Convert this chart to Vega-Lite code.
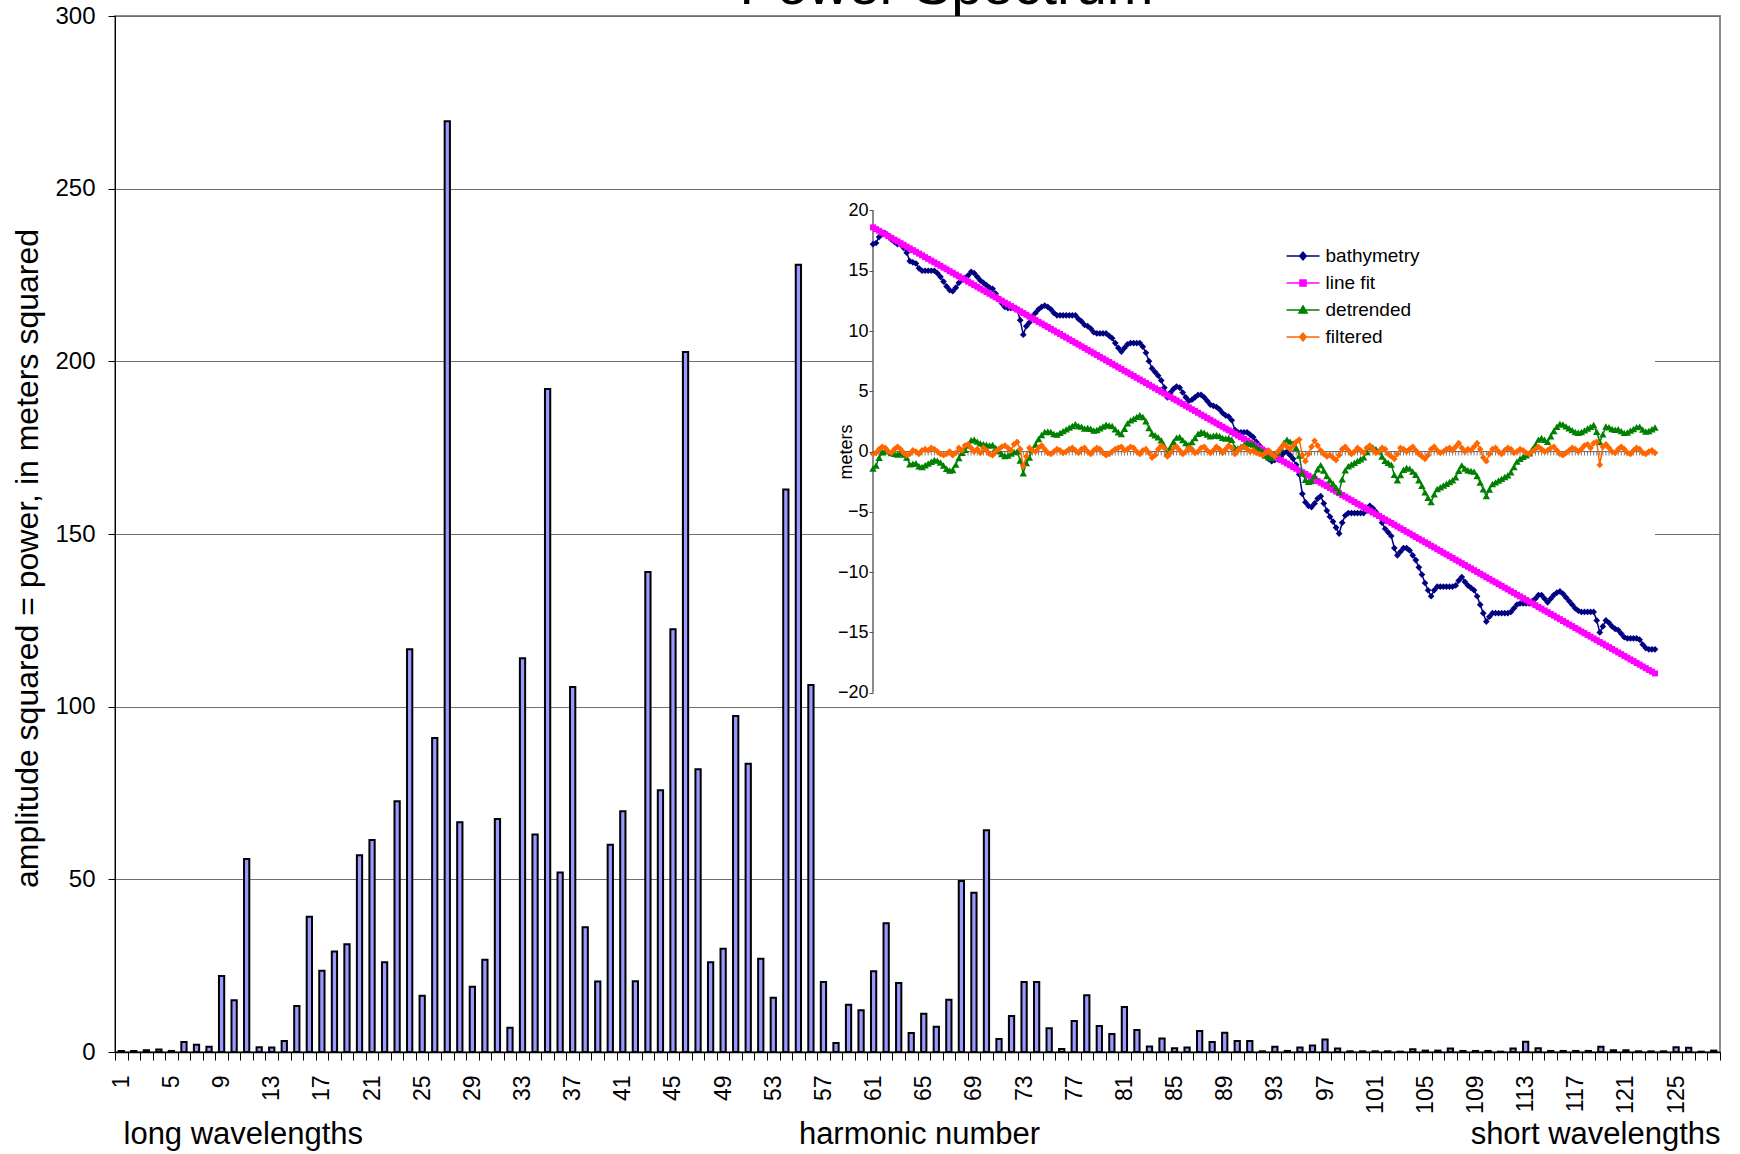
{
"$schema":"https://vega.github.io/schema/vega-lite/v6.json",
"autosize":{"type":"none"},
"width":1605,"height":1036,
"padding":{"left":115,"top":16,"right":20,"bottom":102},
"background":"white",
"config":{"font":"Liberation Sans","view":{"stroke":"#8c8c8c","strokeWidth":2}},
"datasets":{
"bars":[{"h":1,"p":0.3},{"h":2,"p":0.3},{"h":3,"p":0.5},{"h":4,"p":0.7},{"h":5,"p":0.3},{"h":6,"p":2.9},{"h":7,"p":2.1},{"h":8,"p":1.5},{"h":9,"p":22},{"h":10,"p":15},{"h":11,"p":55.9},{"h":12,"p":1.4},{"h":13,"p":1.3},{"h":14,"p":3.2},{"h":15,"p":13.3},{"h":16,"p":39.2},{"h":17,"p":23.5},{"h":18,"p":29.1},{"h":19,"p":31.2},{"h":20,"p":57},{"h":21,"p":61.4},{"h":22,"p":26},{"h":23,"p":72.6},{"h":24,"p":116.6},{"h":25,"p":16.3},{"h":26,"p":90.9},{"h":27,"p":269.5},{"h":28,"p":66.5},{"h":29,"p":18.9},{"h":30,"p":26.7},{"h":31,"p":67.5},{"h":32,"p":7},{"h":33,"p":114},{"h":34,"p":63},{"h":35,"p":192},{"h":36,"p":52},{"h":37,"p":105.7},{"h":38,"p":36.1},{"h":39,"p":20.4},{"h":40,"p":60},{"h":41,"p":69.7},{"h":42,"p":20.5},{"h":43,"p":139},{"h":44,"p":75.8},{"h":45,"p":122.4},{"h":46,"p":202.7},{"h":47,"p":81.9},{"h":48,"p":26},{"h":49,"p":29.9},{"h":50,"p":97.3},{"h":51,"p":83.5},{"h":52,"p":27},{"h":53,"p":15.7},{"h":54,"p":162.9},{"h":55,"p":228},{"h":56,"p":106.3},{"h":57,"p":20.3},{"h":58,"p":2.6},{"h":59,"p":13.7},{"h":60,"p":12.1},{"h":61,"p":23.4},{"h":62,"p":37.3},{"h":63,"p":20},{"h":64,"p":5.5},{"h":65,"p":11.1},{"h":66,"p":7.3},{"h":67,"p":15.1},{"h":68,"p":49.5},{"h":69,"p":46.1},{"h":70,"p":64.2},{"h":71,"p":3.8},{"h":72,"p":10.4},{"h":73,"p":20.3},{"h":74,"p":20.3},{"h":75,"p":6.9},{"h":76,"p":0.9},{"h":77,"p":9},{"h":78,"p":16.4},{"h":79,"p":7.5},{"h":80,"p":5.2},{"h":81,"p":13},{"h":82,"p":6.4},{"h":83,"p":1.6},{"h":84,"p":3.9},{"h":85,"p":1.1},{"h":86,"p":1.3},{"h":87,"p":6.1},{"h":88,"p":2.9},{"h":89,"p":5.6},{"h":90,"p":3.2},{"h":91,"p":3.2},{"h":92,"p":0.2},{"h":93,"p":1.5},{"h":94,"p":0.3},{"h":95,"p":1.3},{"h":96,"p":1.9},{"h":97,"p":3.6},{"h":98,"p":1},{"h":99,"p":0.2},{"h":100,"p":0.2},{"h":101,"p":0.2},{"h":102,"p":0.2},{"h":103,"p":0.1},{"h":104,"p":0.8},{"h":105,"p":0.4},{"h":106,"p":0.4},{"h":107,"p":1},{"h":108,"p":0.3},{"h":109,"p":0.3},{"h":110,"p":0.3},{"h":111,"p":0.1},{"h":112,"p":1},{"h":113,"p":3},{"h":114,"p":1.1},{"h":115,"p":0.3},{"h":116,"p":0.3},{"h":117,"p":0.3},{"h":118,"p":0.3},{"h":119,"p":1.5},{"h":120,"p":0.5},{"h":121,"p":0.5},{"h":122,"p":0.2},{"h":123,"p":0.2},{"h":124,"p":0.2},{"h":125,"p":1.4},{"h":126,"p":1.2},{"h":127,"p":0.1},{"h":128,"p":0.4}],
"inset":[
{"i":1,"b":17.2,"f":18.6,"d":-1.4,"o":-0.2},{"i":2,"b":17.3,"f":18.45,"d":-1.15,"o":-0.1},{"i":3,"b":17.8,"f":18.31,"d":-0.51,"o":0.2},{"i":4,"b":18.1,"f":18.16,"d":-0.06,"o":0.4},{"i":5,"b":18.1,"f":18.02,"d":0.08,"o":0.3},{"i":6,"b":17.9,"f":17.87,"d":0.03,"o":0},{"i":7,"b":17.6,"f":17.73,"d":-0.13,"o":-0.1},{"i":8,"b":17.4,"f":17.58,"d":-0.18,"o":0.2},{"i":9,"b":17.2,"f":17.44,"d":-0.24,"o":0.4},{"i":10,"b":17.2,"f":17.29,"d":-0.09,"o":0.2},
{"i":11,"b":16.9,"f":17.15,"d":-0.25,"o":-0.1},{"i":12,"b":16.5,"f":17,"d":-0.5,"o":-0.3},{"i":13,"b":15.8,"f":16.86,"d":-1.06,"o":-0.2},{"i":14,"b":15.7,"f":16.71,"d":-1.01,"o":0.1},{"i":15,"b":15.6,"f":16.57,"d":-0.97,"o":0},{"i":16,"b":15.2,"f":16.42,"d":-1.22,"o":-0.2},{"i":17,"b":15,"f":16.28,"d":-1.28,"o":0.1},{"i":18,"b":15,"f":16.13,"d":-1.13,"o":0.2},{"i":19,"b":15,"f":15.99,"d":-0.99,"o":0.1},{"i":20,"b":15,"f":15.84,"d":-0.84,"o":0.3},
{"i":21,"b":15,"f":15.7,"d":-0.7,"o":0.2},{"i":22,"b":14.8,"f":15.55,"d":-0.75,"o":0},{"i":23,"b":14.5,"f":15.41,"d":-0.91,"o":-0.2},{"i":24,"b":14.1,"f":15.26,"d":-1.16,"o":-0.3},{"i":25,"b":13.7,"f":15.12,"d":-1.42,"o":-0.2},{"i":26,"b":13.4,"f":14.97,"d":-1.57,"o":0},{"i":27,"b":13.3,"f":14.83,"d":-1.53,"o":-0.3},{"i":28,"b":13.6,"f":14.68,"d":-1.08,"o":-0.1},{"i":29,"b":14,"f":14.54,"d":-0.54,"o":0.3},{"i":30,"b":14.3,"f":14.39,"d":-0.09,"o":0.1},
{"i":31,"b":14.4,"f":14.25,"d":0.15,"o":0.5},{"i":32,"b":14.6,"f":14.1,"d":0.5,"o":0.6},{"i":33,"b":14.9,"f":13.96,"d":0.94,"o":0.3},{"i":34,"b":14.8,"f":13.81,"d":0.99,"o":0},{"i":35,"b":14.5,"f":13.67,"d":0.83,"o":0.2},{"i":36,"b":14.2,"f":13.52,"d":0.68,"o":-0.1},{"i":37,"b":14,"f":13.38,"d":0.62,"o":0.3},{"i":38,"b":13.8,"f":13.23,"d":0.57,"o":0.1},{"i":39,"b":13.6,"f":13.09,"d":0.51,"o":-0.2},{"i":40,"b":13.5,"f":12.94,"d":0.56,"o":-0.3},
{"i":41,"b":13.1,"f":12.8,"d":0.3,"o":0},{"i":42,"b":12.7,"f":12.65,"d":0.05,"o":0.2},{"i":43,"b":12.3,"f":12.51,"d":-0.21,"o":0.4},{"i":44,"b":12,"f":12.36,"d":-0.36,"o":0.5},{"i":45,"b":11.9,"f":12.22,"d":-0.32,"o":0.3},{"i":46,"b":11.9,"f":12.07,"d":-0.17,"o":0.1},{"i":47,"b":11.9,"f":11.93,"d":-0.03,"o":0.6},{"i":48,"b":11.8,"f":11.78,"d":0.02,"o":0.8},{"i":49,"b":10.9,"f":11.64,"d":-0.74,"o":0.2},{"i":50,"b":9.7,"f":11.49,"d":-1.79,"o":-1.2},
{"i":51,"b":10.4,"f":11.35,"d":-0.95,"o":-0.4},{"i":52,"b":10.7,"f":11.2,"d":-0.5,"o":0.3},{"i":53,"b":11.2,"f":11.06,"d":0.14,"o":0.1},{"i":54,"b":11.5,"f":10.91,"d":0.59,"o":0},{"i":55,"b":11.8,"f":10.76,"d":1.04,"o":0.3},{"i":56,"b":12,"f":10.62,"d":1.38,"o":0.5},{"i":57,"b":12.1,"f":10.47,"d":1.63,"o":0.2},{"i":58,"b":12,"f":10.33,"d":1.67,"o":-0.1},{"i":59,"b":11.8,"f":10.18,"d":1.62,"o":-0.2},{"i":60,"b":11.5,"f":10.04,"d":1.46,"o":0},
{"i":61,"b":11.3,"f":9.89,"d":1.41,"o":0.2},{"i":62,"b":11.3,"f":9.75,"d":1.55,"o":0.1},{"i":63,"b":11.3,"f":9.6,"d":1.7,"o":-0.1},{"i":64,"b":11.3,"f":9.46,"d":1.84,"o":0},{"i":65,"b":11.3,"f":9.31,"d":1.99,"o":0.2},{"i":66,"b":11.3,"f":9.17,"d":2.13,"o":0.3},{"i":67,"b":11.3,"f":9.02,"d":2.28,"o":0.1},{"i":68,"b":11,"f":8.88,"d":2.12,"o":-0.1},{"i":69,"b":10.8,"f":8.73,"d":2.07,"o":0.2},{"i":70,"b":10.5,"f":8.59,"d":1.91,"o":0.3},
{"i":71,"b":10.4,"f":8.44,"d":1.96,"o":0},{"i":72,"b":10.2,"f":8.3,"d":1.9,"o":-0.2},{"i":73,"b":9.9,"f":8.15,"d":1.75,"o":0.1},{"i":74,"b":9.8,"f":8.01,"d":1.79,"o":0.3},{"i":75,"b":9.8,"f":7.86,"d":1.94,"o":0.2},{"i":76,"b":9.8,"f":7.72,"d":2.08,"o":-0.1},{"i":77,"b":9.8,"f":7.57,"d":2.23,"o":-0.3},{"i":78,"b":9.6,"f":7.43,"d":2.17,"o":-0.2},{"i":79,"b":9.4,"f":7.28,"d":2.12,"o":0},{"i":80,"b":9,"f":7.14,"d":1.86,"o":0.2},
{"i":81,"b":8.6,"f":6.99,"d":1.61,"o":0.3},{"i":82,"b":8.3,"f":6.85,"d":1.45,"o":0.4},{"i":83,"b":8.6,"f":6.7,"d":1.9,"o":0.1},{"i":84,"b":8.9,"f":6.56,"d":2.34,"o":0.2},{"i":85,"b":9,"f":6.41,"d":2.59,"o":0.4},{"i":86,"b":9,"f":6.27,"d":2.73,"o":0.3},{"i":87,"b":9,"f":6.12,"d":2.88,"o":0},{"i":88,"b":9,"f":5.98,"d":3.02,"o":-0.2},{"i":89,"b":8.7,"f":5.83,"d":2.87,"o":0.1},{"i":90,"b":8.2,"f":5.69,"d":2.51,"o":0.2},
{"i":91,"b":7.5,"f":5.54,"d":1.96,"o":-0.1},{"i":92,"b":6.9,"f":5.4,"d":1.5,"o":-0.5},{"i":93,"b":6.6,"f":5.25,"d":1.35,"o":-0.3},{"i":94,"b":6.3,"f":5.11,"d":1.19,"o":0.2},{"i":95,"b":5.9,"f":4.96,"d":0.94,"o":0.5},{"i":96,"b":5.3,"f":4.82,"d":0.48,"o":0.3},{"i":97,"b":4.5,"f":4.67,"d":-0.17,"o":-0.4},{"i":98,"b":4.9,"f":4.53,"d":0.37,"o":-0.1},{"i":99,"b":5.2,"f":4.38,"d":0.82,"o":0.3},{"i":100,"b":5.4,"f":4.24,"d":1.16,"o":0.4},
{"i":101,"b":5.3,"f":4.09,"d":1.21,"o":0.1},{"i":102,"b":4.9,"f":3.95,"d":0.95,"o":-0.2},{"i":103,"b":4.5,"f":3.8,"d":0.7,"o":0},{"i":104,"b":4.2,"f":3.66,"d":0.54,"o":0.3},{"i":105,"b":4.3,"f":3.51,"d":0.79,"o":0.2},{"i":106,"b":4.5,"f":3.37,"d":1.13,"o":-0.1},{"i":107,"b":4.7,"f":3.22,"d":1.48,"o":0},{"i":108,"b":4.7,"f":3.07,"d":1.63,"o":0.3},{"i":109,"b":4.5,"f":2.93,"d":1.57,"o":0.4},{"i":110,"b":4.2,"f":2.78,"d":1.42,"o":0.1},
{"i":111,"b":3.9,"f":2.64,"d":1.26,"o":-0.1},{"i":112,"b":3.8,"f":2.49,"d":1.31,"o":0.1},{"i":113,"b":3.7,"f":2.35,"d":1.35,"o":0.4},{"i":114,"b":3.5,"f":2.2,"d":1.3,"o":0.2},{"i":115,"b":3.2,"f":2.06,"d":1.14,"o":-0.1},{"i":116,"b":3,"f":1.91,"d":1.09,"o":0.2},{"i":117,"b":2.9,"f":1.77,"d":1.13,"o":0.5},{"i":118,"b":2.6,"f":1.62,"d":0.98,"o":0.3},{"i":119,"b":1.8,"f":1.48,"d":0.32,"o":-0.2},{"i":120,"b":1.6,"f":1.33,"d":0.27,"o":0.1},
{"i":121,"b":1.6,"f":1.19,"d":0.41,"o":0.3},{"i":122,"b":1.6,"f":1.04,"d":0.56,"o":0.4},{"i":123,"b":1.6,"f":0.9,"d":0.7,"o":0.2},{"i":124,"b":1.4,"f":0.75,"d":0.65,"o":0},{"i":125,"b":1.2,"f":0.61,"d":0.59,"o":0.1},{"i":126,"b":0.8,"f":0.46,"d":0.34,"o":-0.1},{"i":127,"b":0.5,"f":0.32,"d":0.18,"o":-0.2},{"i":128,"b":0.2,"f":0.17,"d":0.03,"o":-0.3},{"i":129,"b":-0.3,"f":0.03,"d":-0.33,"o":-0.1},{"i":130,"b":-0.6,"f":-0.12,"d":-0.48,"o":0.1},
{"i":131,"b":-0.8,"f":-0.26,"d":-0.54,"o":-0.2},{"i":132,"b":-0.7,"f":-0.41,"d":-0.29,"o":-0.4},{"i":133,"b":-0.6,"f":-0.55,"d":-0.05,"o":0},{"i":134,"b":-0.4,"f":-0.7,"d":0.3,"o":0.3},{"i":135,"b":-0.1,"f":-0.84,"d":0.74,"o":0.6},{"i":136,"b":0,"f":-0.99,"d":0.99,"o":0.4},{"i":137,"b":-0.3,"f":-1.13,"d":0.83,"o":0.2},{"i":138,"b":-0.6,"f":-1.28,"d":0.68,"o":0.5},{"i":139,"b":-1.1,"f":-1.42,"d":0.32,"o":0.8},{"i":140,"b":-1.9,"f":-1.57,"d":-0.33,"o":1},
{"i":141,"b":-3.5,"f":-1.71,"d":-1.79,"o":-0.3},{"i":142,"b":-4.2,"f":-1.86,"d":-2.34,"o":-0.8},{"i":143,"b":-4.5,"f":-2,"d":-2.5,"o":-0.2},{"i":144,"b":-4.6,"f":-2.15,"d":-2.45,"o":0.4},{"i":145,"b":-4.3,"f":-2.29,"d":-2.01,"o":0.9},{"i":146,"b":-3.9,"f":-2.44,"d":-1.46,"o":0.5},{"i":147,"b":-3.7,"f":-2.58,"d":-1.12,"o":0.1},{"i":148,"b":-4.3,"f":-2.73,"d":-1.57,"o":-0.2},{"i":149,"b":-4.9,"f":-2.87,"d":-2.03,"o":-0.4},{"i":150,"b":-5.4,"f":-3.02,"d":-2.38,"o":-0.3},
{"i":151,"b":-5.8,"f":-3.16,"d":-2.64,"o":-0.5},{"i":152,"b":-6.3,"f":-3.31,"d":-2.99,"o":-0.7},{"i":153,"b":-6.8,"f":-3.45,"d":-3.35,"o":-0.3},{"i":154,"b":-5.9,"f":-3.6,"d":-2.3,"o":0.2},{"i":155,"b":-5.3,"f":-3.74,"d":-1.56,"o":0.4},{"i":156,"b":-5.1,"f":-3.89,"d":-1.21,"o":0.1},{"i":157,"b":-5.1,"f":-4.03,"d":-1.07,"o":-0.2},{"i":158,"b":-5.1,"f":-4.18,"d":-0.92,"o":0},{"i":159,"b":-5.1,"f":-4.33,"d":-0.77,"o":0.3},{"i":160,"b":-5.1,"f":-4.47,"d":-0.63,"o":0.1},
{"i":161,"b":-5.1,"f":-4.62,"d":-0.48,"o":-0.1},{"i":162,"b":-4.8,"f":-4.76,"d":-0.04,"o":0.3},{"i":163,"b":-4.5,"f":-4.91,"d":0.41,"o":0.5},{"i":164,"b":-4.7,"f":-5.05,"d":0.35,"o":0.2},{"i":165,"b":-5,"f":-5.2,"d":0.2,"o":-0.1},{"i":166,"b":-5.3,"f":-5.34,"d":0.04,"o":0},{"i":167,"b":-5.9,"f":-5.49,"d":-0.41,"o":0.3},{"i":168,"b":-6.4,"f":-5.63,"d":-0.77,"o":0.2},{"i":169,"b":-6.7,"f":-5.78,"d":-0.92,"o":-0.2},{"i":170,"b":-7,"f":-5.92,"d":-1.08,"o":-0.4},
{"i":171,"b":-8,"f":-6.07,"d":-1.93,"o":-0.6},{"i":172,"b":-8.6,"f":-6.21,"d":-2.39,"o":-0.2},{"i":173,"b":-8.3,"f":-6.36,"d":-1.94,"o":0.3},{"i":174,"b":-8,"f":-6.5,"d":-1.5,"o":0.2},{"i":175,"b":-8,"f":-6.65,"d":-1.35,"o":0},{"i":176,"b":-8.2,"f":-6.79,"d":-1.41,"o":0.2},{"i":177,"b":-8.6,"f":-6.94,"d":-1.66,"o":0.4},{"i":178,"b":-9,"f":-7.08,"d":-1.92,"o":0.1},{"i":179,"b":-9.6,"f":-7.23,"d":-2.37,"o":-0.2},{"i":180,"b":-10.2,"f":-7.37,"d":-2.83,"o":-0.4},
{"i":181,"b":-10.9,"f":-7.52,"d":-3.38,"o":-0.6},{"i":182,"b":-11.5,"f":-7.66,"d":-3.84,"o":-0.3},{"i":183,"b":-12,"f":-7.81,"d":-4.19,"o":0.2},{"i":184,"b":-11.5,"f":-7.95,"d":-3.55,"o":0.4},{"i":185,"b":-11.2,"f":-8.1,"d":-3.1,"o":0.1},{"i":186,"b":-11.2,"f":-8.24,"d":-2.96,"o":-0.1},{"i":187,"b":-11.2,"f":-8.39,"d":-2.81,"o":0},{"i":188,"b":-11.2,"f":-8.53,"d":-2.67,"o":0.2},{"i":189,"b":-11.2,"f":-8.68,"d":-2.52,"o":0.3},{"i":190,"b":-11.2,"f":-8.82,"d":-2.38,"o":0.1},
{"i":191,"b":-11.1,"f":-8.97,"d":-2.13,"o":0.4},{"i":192,"b":-10.7,"f":-9.11,"d":-1.59,"o":0.7},{"i":193,"b":-10.4,"f":-9.26,"d":-1.14,"o":0.3},{"i":194,"b":-10.8,"f":-9.4,"d":-1.4,"o":0},{"i":195,"b":-11.1,"f":-9.55,"d":-1.55,"o":0.2},{"i":196,"b":-11.3,"f":-9.69,"d":-1.61,"o":0.1},{"i":197,"b":-11.5,"f":-9.84,"d":-1.66,"o":0.4},{"i":198,"b":-12,"f":-9.98,"d":-2.02,"o":0.7},{"i":199,"b":-12.7,"f":-10.13,"d":-2.57,"o":0.2},{"i":200,"b":-13.4,"f":-10.27,"d":-3.13,"o":-0.5},
{"i":201,"b":-14.1,"f":-10.42,"d":-3.68,"o":-0.8},{"i":202,"b":-13.7,"f":-10.56,"d":-3.14,"o":-0.2},{"i":203,"b":-13.4,"f":-10.71,"d":-2.69,"o":0.2},{"i":204,"b":-13.4,"f":-10.85,"d":-2.55,"o":0.3},{"i":205,"b":-13.4,"f":-11,"d":-2.4,"o":0},{"i":206,"b":-13.4,"f":-11.14,"d":-2.26,"o":-0.2},{"i":207,"b":-13.4,"f":-11.29,"d":-2.11,"o":0.1},{"i":208,"b":-13.4,"f":-11.43,"d":-1.97,"o":0.3},{"i":209,"b":-13.3,"f":-11.58,"d":-1.72,"o":0.2},{"i":210,"b":-13,"f":-11.72,"d":-1.28,"o":-0.1},
{"i":211,"b":-12.7,"f":-11.87,"d":-0.83,"o":0},{"i":212,"b":-12.6,"f":-12.01,"d":-0.59,"o":0.2},{"i":213,"b":-12.6,"f":-12.16,"d":-0.44,"o":0.1},{"i":214,"b":-12.6,"f":-12.3,"d":-0.3,"o":-0.1},{"i":215,"b":-12.6,"f":-12.45,"d":-0.15,"o":-0.2},{"i":216,"b":-12.4,"f":-12.59,"d":0.19,"o":0},{"i":217,"b":-12.2,"f":-12.74,"d":0.54,"o":0.2},{"i":218,"b":-11.9,"f":-12.89,"d":0.99,"o":0.4},{"i":219,"b":-11.9,"f":-13.03,"d":1.13,"o":0.2},{"i":220,"b":-12.2,"f":-13.18,"d":0.98,"o":0},
{"i":221,"b":-12.5,"f":-13.32,"d":0.82,"o":0.1},{"i":222,"b":-12.2,"f":-13.47,"d":1.27,"o":0.3},{"i":223,"b":-11.9,"f":-13.61,"d":1.71,"o":0.4},{"i":224,"b":-11.7,"f":-13.76,"d":2.06,"o":0.1},{"i":225,"b":-11.6,"f":-13.9,"d":2.3,"o":-0.2},{"i":226,"b":-11.8,"f":-14.05,"d":2.25,"o":-0.3},{"i":227,"b":-12.1,"f":-14.19,"d":2.09,"o":-0.1},{"i":228,"b":-12.4,"f":-14.34,"d":1.94,"o":0.1},{"i":229,"b":-12.7,"f":-14.48,"d":1.78,"o":0.3},{"i":230,"b":-13,"f":-14.63,"d":1.63,"o":0.2},
{"i":231,"b":-13.2,"f":-14.77,"d":1.57,"o":0},{"i":232,"b":-13.3,"f":-14.92,"d":1.62,"o":0.2},{"i":233,"b":-13.3,"f":-15.06,"d":1.76,"o":0.5},{"i":234,"b":-13.3,"f":-15.21,"d":1.91,"o":0.6},{"i":235,"b":-13.3,"f":-15.35,"d":2.05,"o":0.3},{"i":236,"b":-13.3,"f":-15.5,"d":2.2,"o":0.7},{"i":237,"b":-14,"f":-15.64,"d":1.64,"o":0.8},{"i":238,"b":-15,"f":-15.79,"d":0.79,"o":-1.1},{"i":239,"b":-14.5,"f":-15.93,"d":1.43,"o":0.4},{"i":240,"b":-14,"f":-16.08,"d":2.08,"o":0.6},
{"i":241,"b":-14.2,"f":-16.22,"d":2.02,"o":0.3},{"i":242,"b":-14.5,"f":-16.37,"d":1.87,"o":0},{"i":243,"b":-14.7,"f":-16.51,"d":1.81,"o":-0.1},{"i":244,"b":-14.8,"f":-16.66,"d":1.86,"o":0.2},{"i":245,"b":-15.1,"f":-16.8,"d":1.7,"o":0.4},{"i":246,"b":-15.4,"f":-16.95,"d":1.55,"o":0.2},{"i":247,"b":-15.5,"f":-17.09,"d":1.59,"o":-0.1},{"i":248,"b":-15.5,"f":-17.24,"d":1.74,"o":-0.2},{"i":249,"b":-15.5,"f":-17.38,"d":1.88,"o":0.1},{"i":250,"b":-15.5,"f":-17.53,"d":2.03,"o":0.3},
{"i":251,"b":-15.6,"f":-17.67,"d":2.07,"o":0.2},{"i":252,"b":-16,"f":-17.82,"d":1.82,"o":-0.1},{"i":253,"b":-16.3,"f":-17.96,"d":1.66,"o":-0.2},{"i":254,"b":-16.4,"f":-18.11,"d":1.71,"o":0},{"i":255,"b":-16.4,"f":-18.25,"d":1.85,"o":0.1},{"i":256,"b":-16.4,"f":-18.4,"d":2,"o":-0.1}
]},
"resolve":{"scale":{"x":"independent","y":"independent"},"axis":{"x":"independent","y":"independent"}},
"layer":[
{"data":{"name":"bars"},
 "mark":{"type":"bar","width":{"band":0.42},"fill":"#9999FF","stroke":"black","strokeWidth":2},
 "encoding":{
  "x":{"field":"h","type":"ordinal","scale":{"paddingInner":0,"paddingOuter":0},
   "axis":{"orient":"bottom","title":"harmonic number","titleFontSize":31,"titleFontWeight":"normal","titleColor":"black","titleX":804,"titleY":91,"titleAlign":"center","titleBaseline":"alphabetic","labelAngle":270,"labelFontSize":23,"labelColor":"black","labelExpr":"(datum.value - 1) % 4 === 0 ? datum.label : ''","labelOverlap":false,"labelPadding":15,"tickSize":8,"tickBand":"extent","tickColor":"black","domainColor":"black","domainWidth":1.5,"grid":false}},
  "y":{"field":"p","type":"quantitative","scale":{"domain":[0,300],"nice":false,"zero":true},
   "axis":{"orient":"left","title":"amplitude squared = power, in meters squared","titleFontSize":32,"titleFontWeight":"normal","titleColor":"black","titleX":-88,"titleY":542,"titleAlign":"center","titleBaseline":"middle","titleAngle":270,"values":[0,50,100,150,200,250,300],"grid":true,"gridColor":"#707070","gridWidth":1,"tickSize":7,"tickColor":"black","labelFontSize":24,"labelColor":"black","labelPadding":13,"domainColor":"black","domainWidth":1}}
 }},
{"data":{"name":"bars"},"mark":{"type":"point","opacity":0},
 "encoding":{"x":{"field":"h","type":"ordinal","axis":{"orient":"bottom","title":"long wavelengths","labels":false,"ticks":false,"domain":false,"grid":false,"titleFontSize":31,"titleFontWeight":"normal","titleColor":"black","titleX":8,"titleY":91,"titleAlign":"left","titleBaseline":"alphabetic"}}}},
{"data":{"name":"bars"},"mark":{"type":"point","opacity":0},
 "encoding":{"x":{"field":"h","type":"ordinal","axis":{"orient":"bottom","title":"short wavelengths","labels":false,"ticks":false,"domain":false,"grid":false,"titleFontSize":31,"titleFontWeight":"normal","titleColor":"black","titleX":1605,"titleY":91,"titleAlign":"right","titleBaseline":"alphabetic"}}}},
{"data":{"name":"bars"},"mark":{"type":"point","opacity":0},
 "encoding":{"x":{"field":"h","type":"ordinal","axis":{"orient":"top","title":"Power Spectrum","labels":false,"ticks":false,"domain":false,"grid":false,"titleFontSize":56,"titleFontWeight":"normal","titleColor":"black","titleX":831,"titleY":-13,"titleAlign":"center","titleBaseline":"alphabetic"}}}},
{"layer":[
 {"data":{"values":[{}]},"mark":{"type":"rect","fill":"white","strokeWidth":0},
  "encoding":{
   "x":{"datum":1,"type":"quantitative","scale":{"domain":[-246.17,277.2],"nice":false,"zero":false},"axis":null},
   "x2":{"datum":256},
   "y":{"datum":21.1,"type":"quantitative","scale":{"domain":[-49.8,36.13],"nice":false,"zero":false},
    "axis":{"orient":"left","offset":-758,"values":[-20,-15,-10,-5,0,5,10,15,20],"domain":false,"grid":false,"tickSize":4,"tickColor":"#555555","labelFontSize":18,"labelColor":"black","labelPadding":1,"title":"meters","titleFontSize":18,"titleFontWeight":"normal","titleColor":"black","titleX":-27,"titleY":435.6,"titleAlign":"center","titleBaseline":"middle","titleAngle":270,"zindex":1}},
   "y2":{"datum":-20.5}}},
 {"data":{"values":[{}]},"mark":{"type":"rule","color":"#666666","strokeWidth":1.5},
  "encoding":{"x":{"datum":1,"type":"quantitative"},"y":{"datum":20,"type":"quantitative"},"y2":{"datum":-20}}},
 {"data":{"values":[{}]},"mark":{"type":"rule","color":"#666666","strokeWidth":1},
  "encoding":{"x":{"datum":1,"type":"quantitative"},"x2":{"datum":256},"y":{"datum":0,"type":"quantitative"}}},
 {"data":{"name":"inset"},"mark":{"type":"tick","orient":"vertical","size":4,"thickness":1,"color":"#444444","yOffset":2},
  "encoding":{"x":{"field":"i","type":"quantitative"},"y":{"datum":0,"type":"quantitative"}}},
 {"data":{"name":"inset"},"mark":{"type":"line","strokeWidth":1.5,"point":{"shape":"diamond","filled":true,"size":45}},
  "encoding":{"x":{"field":"i","type":"quantitative"},"y":{"field":"b","type":"quantitative"},
   "color":{"datum":"bathymetry","type":"nominal","scale":{"domain":["bathymetry","line fit","detrended","filtered"],"range":["#000080","#FF00FF","#008000","#FF6600"]},
    "legend":{"title":null,"orient":"none","legendX":1178.5,"legendY":230.5,"padding":0,"symbolSize":100,"symbolStrokeWidth":1.6,"labelFontSize":19,"labelColor":"black","labelOffset":13,"rowPadding":7,
     "encode":{"symbols":{"update":{
      "shape":{"signal":"datum.value === 'line fit' ? 'M-3.3,0H3.3M-0.6,-0.6H0.6V0.6H-0.6Z' : datum.value === 'detrended' ? 'M-3.3,0H3.3M0,-0.8L0.8,0.6H-0.8Z' : 'M-3.3,0H3.3M0,-0.75L0.65,0L0,0.75L-0.65,0Z'"},
      "fill":{"scale":"color","field":"value"},"stroke":{"scale":"color","field":"value"},"opacity":{"value":1}}}}}}}},
 {"data":{"name":"inset"},"mark":{"type":"line","strokeWidth":1.5,"point":{"shape":"square","filled":true,"size":36}},
  "encoding":{"x":{"field":"i","type":"quantitative"},"y":{"field":"f","type":"quantitative"},"color":{"datum":"line fit","type":"nominal"}}},
 {"data":{"name":"inset"},"mark":{"type":"line","strokeWidth":1.5,"point":{"shape":"triangle-up","filled":true,"size":55}},
  "encoding":{"x":{"field":"i","type":"quantitative"},"y":{"field":"d","type":"quantitative"},"color":{"datum":"detrended","type":"nominal"}}},
 {"data":{"name":"inset"},"mark":{"type":"line","strokeWidth":1.5,"point":{"shape":"diamond","filled":true,"size":45}},
  "encoding":{"x":{"field":"i","type":"quantitative"},"y":{"field":"o","type":"quantitative"},"color":{"datum":"filtered","type":"nominal"}}}
]}
]
}
